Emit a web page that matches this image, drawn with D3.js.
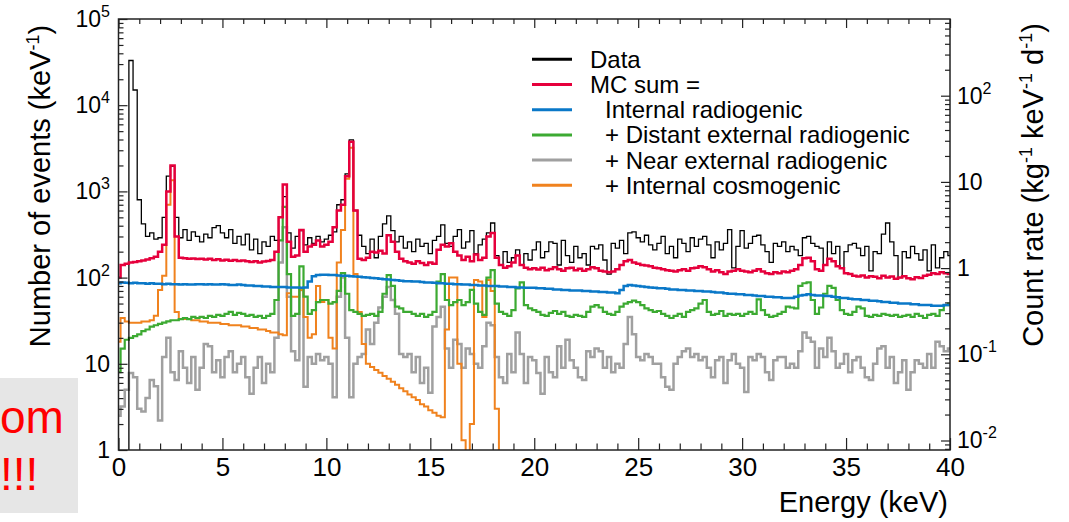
<!DOCTYPE html>
<html>
<head>
<meta charset="utf-8">
<script src="https://cdn.jsdelivr.net/npm/d3@7"></script>
<style>
  body { margin: 0; background: #fff; }
  text { font-family: "Liberation Sans", Arial, Helvetica, sans-serif; }
</style>
</head>
<body>
<svg id="chart" width="1069" height="522"></svg>
<script>
// histogram bins are 0.2 keV wide, centred on 0, 0.2, 0.4 ... keV
const binWidth = 0.2;

// events per keV
const dataCounts = [
  0.5, 0.5, 0.5, 33000, 15000, 800, 420, 300, 330, 280,
  290, 500, 1500, 1950, 500, 290, 360, 270, 340, 300,
  260, 320, 290, 380, 400, 330, 290, 360, 250, 300,
  240, 320, 210, 280, 190, 260, 230, 300, 270, 500,
  870, 330, 220, 300, 350, 240, 290, 250, 300, 260,
  280, 310, 340, 700, 800, 1600, 3950, 600, 310, 230,
  190, 280, 170, 300, 420, 520, 350, 260, 300, 220,
  260, 200, 280, 230, 250, 190, 270, 300, 410, 250,
  230, 300, 360, 220, 260, 350, 190, 240, 280, 330,
  430, 180, 140, 200, 150, 170, 210, 140, 190, 160,
  210, 260, 170, 200, 260, 250, 140, 270, 180, 150,
  230, 170, 190, 140, 230, 215, 240, 160, 110, 250,
  220, 270, 190, 330, 340, 290, 260, 310, 240, 210,
  250, 300, 190, 230, 170, 280, 250, 200, 290, 230,
  280, 300, 240, 170, 260, 210, 250, 360, 130, 230,
  350, 220, 250, 300, 310, 240, 200, 150, 250, 230,
  260, 200, 230, 210, 180, 290, 300, 250, 230, 220,
  140, 260, 190, 230, 130, 200, 240, 250, 220, 180,
  230, 120, 200, 190, 320, 430, 260, 180, 100, 200,
  170, 230, 190, 160, 210, 120, 240, 130, 170, 200,
  180
];

const mcSum = [
  100, 140, 145, 150, 152, 155, 158, 162, 168, 175,
  200, 240, 1000, 2000, 300, 170, 168, 165, 167, 164,
  165, 162, 166, 160, 163, 158, 161, 157, 160, 156,
  158, 155, 152, 155, 150, 154, 156, 160, 200, 500,
  1200, 260, 175, 180, 357, 200, 230, 240, 270, 230,
  240, 260, 385, 600, 700, 1500, 3760, 600, 165, 160,
  170, 200, 195, 205, 190, 310, 260, 200, 165, 155,
  150, 145, 155, 148, 140, 150, 145, 210, 240, 230,
  250, 200, 180, 160, 175, 155, 185, 160, 170, 300,
  330, 170, 140, 130, 135, 150, 180, 140, 130, 125,
  128, 124, 130, 122, 126, 132, 125, 120, 128, 130,
  122, 127, 120, 125, 132, 128, 120, 118, 115, 118,
  125, 140, 155, 160, 150, 145, 140, 138, 135, 130,
  128, 125, 122, 120, 118, 122, 125, 120, 128, 130,
  135, 132, 125, 118, 122, 115, 110, 118, 120, 125,
  120, 118, 115, 120, 125, 118, 112, 110, 115, 112,
  118, 115, 120, 125, 140, 168, 170, 155, 125, 120,
  140, 165, 155, 135, 128, 112, 110, 105, 103, 106,
  100, 104, 102, 98, 105, 100, 103, 97, 100, 104,
  98, 96, 101, 99, 105, 108, 112, 110, 115, 112,
  110
];

const internalRadiogenic = [
  86, 88, 87, 86, 87, 86, 86, 85, 86, 85,
  85, 84, 85, 84, 84, 83, 84, 83, 83, 84,
  84, 83, 84, 83, 83, 84, 83, 82, 82, 83,
  82, 81, 81, 80, 80, 79, 79, 78, 78, 78,
  78, 77, 77, 77, 76, 77, 90, 104, 107, 108,
  108, 107, 107, 106, 105, 105, 104, 103, 102, 101,
  100, 99, 98, 97, 96, 95, 94, 93, 92, 91,
  91, 90, 90, 89, 88, 88, 87, 86, 86, 85,
  85, 84, 84, 83, 83, 82, 82, 81, 81, 80,
  80, 80, 79, 79, 78, 78, 77, 77, 76, 76,
  76, 75, 75, 74, 74, 73, 73, 72, 72, 71,
  71, 71, 70, 70, 69, 69, 68, 68, 67, 67,
  66, 72, 80, 82, 81, 80, 79, 78, 77, 76,
  75, 75, 74, 73, 73, 72, 72, 71, 71, 70,
  70, 69, 69, 68, 67, 67, 66, 65, 65, 64,
  64, 63, 63, 62, 61, 61, 60, 60, 59, 59,
  58, 58, 58, 60, 62, 63, 64, 63, 62, 62,
  61, 61, 60, 59, 58, 58, 57, 56, 56, 55,
  55, 54, 54, 53, 52, 52, 51, 51, 50, 50,
  50, 49, 49, 48, 48, 48, 47, 47, 47, 48,
  48
];

const distantExternal = [
  8, 15, 19, 20, 21, 22, 24, 25, 27, 28,
  29, 30, 31, 32, 32, 33, 34, 33, 35, 34,
  35, 34, 36, 35, 37, 36, 38, 40, 37, 39,
  38, 36, 37, 35, 36, 34, 36, 38, 55, 270,
  660, 110, 36, 38, 135, 60, 38, 42, 52, 55,
  55, 50, 52, 70, 113, 65, 42, 40, 38, 36,
  37, 38, 36, 40, 65, 107, 80, 46, 44, 40,
  40, 38, 36, 38, 35, 37, 40, 90, 110, 55,
  48, 52, 55, 48, 52, 72, 50, 40, 37, 100,
  122, 50, 40, 38, 36, 42, 75, 88, 48, 44,
  42, 40, 37, 36, 39, 41, 38, 40, 36, 35,
  37, 36, 35, 40, 46, 48, 45, 40, 38, 37,
  40, 46, 50, 52, 54, 52, 48, 44, 42, 40,
  41, 38, 36, 34, 36, 38, 35, 40, 42, 44,
  50, 55, 40, 37, 38, 41, 36, 38, 37, 38,
  36, 38, 40, 38, 56, 42, 37, 35, 36, 38,
  40, 46, 45, 44, 80, 86, 88, 55, 38, 45,
  65, 80, 76, 55, 42, 38, 37, 40, 46, 44,
  36, 35, 37, 36, 38, 37, 36, 37, 35, 36,
  37, 35, 38, 36, 34, 37, 38, 36, 42, 48,
  50
];

const nearExternal = [
  2.5, 3.2, 5, 7.8, 7, 3, 2.8, 4, 6.5, 5.5,
  2.2, 12, 20, 8, 6.5, 14, 9, 6, 12, 5,
  9, 17, 16, 8, 11, 7, 12, 14, 8, 10,
  12, 7, 4.5, 9, 12, 6, 10, 8, 20, 150,
  385, 60, 14, 11, 72, 5.4, 12, 10, 13, 11,
  12, 10, 4.1, 60, 100, 20, 4.1, 10, 12, 13,
  25, 17, 30, 45, 60, 78, 55, 38, 13, 12,
  13, 8, 12, 6, 9, 4.6, 27, 35, 46, 15,
  9, 19, 17, 9, 15, 13, 10, 9, 16, 30,
  28, 12, 7, 6, 13, 8, 23, 13, 6, 12,
  11, 7.8, 4.5, 12, 8, 7, 16, 9, 19, 11,
  9, 7, 6.5, 14, 12, 15, 14, 9, 12, 8,
  10, 9, 17, 35, 22, 12, 11, 13, 12, 10,
  10, 7, 5.4, 5, 10, 12, 14, 15, 12, 13,
  11, 12, 9, 7, 11, 12, 6, 11, 13, 10,
  9, 4.7, 12, 11, 13, 12, 8, 6.5, 11, 12,
  12, 9, 10, 9, 14, 23, 20, 18, 9, 15,
  12, 20, 14, 9, 10, 13, 8, 11, 12, 9,
  7, 6.5, 10, 15, 16, 9, 12, 6, 8, 11,
  5, 8, 11, 10, 9, 13, 9, 18, 16, 14,
  15
];

// falls below 1 event/keV after ~18.3 keV
const internalCosmogenic = [
  18, 34, 31, 30, 30, 30, 31, 31, 32, 36,
  72, 105, 700, 1350, 40, 33, 33, 33, 32, 32,
  31, 31, 30, 30, 30, 29, 29, 28, 28, 28,
  27, 27, 26, 26, 25, 25, 24, 23, 23, 22,
  21.5, 66, 60, 60, 72, 35, 20, 22, 80, 52,
  55, 20, 15, 150, 357, 1400, 3200, 110, 40, 17,
  10, 9.2, 8.5, 7.9, 7.2, 6.7, 6.2, 5.7, 5.2, 4.8,
  4.4, 4.1, 3.8, 3.4, 3.2, 2.9, 2.7, 2.5, 2.4, 25,
  100, 100, 10, 1.3, 0.5, 2, 94, 90, 35, 94,
  70, 3, 0.01
];

const seriesNames = ["Data", "MC sum =", "Internal radiogenic",
  "+ Distant external radiogenic", "+ Near external radiogenic", "+ Internal cosmogenic"];
const seriesColors = ["#000000", "#e6003c", "#0a78c8", "#3caa32", "#a0a0a0", "#f0821e"];
const seriesWidths = [1.3, 2.5, 2.5, 2.2, 2.5, 2];
const seriesValues = [dataCounts, mcSum, internalRadiogenic, distantExternal, nearExternal, internalCosmogenic];

const leftDecades = [1, 10, 100, 1000, 10000, 100000];
const rightDecades = [0.01, 0.1, 1, 10, 100];
const xMajorTicks = [0, 5, 10, 15, 20, 25, 30, 35, 40];

const svg = d3.select("#chart");
const plot = { left: 118.5, right: 950, top: 19, bottom: 450 };

const x = d3.scaleLinear().domain([0, 40]).range([plot.left, plot.right]);
const y = d3.scaleLog().domain([1, 1e5]).range([plot.bottom, plot.top]);
// count rate scale: events/keV divided by exposure (~129 kg d)
const yRight = d3.scaleLog().domain([1 / 128.9, 1e5 / 128.9]).range([plot.bottom, plot.top]);

// grey note box on the left
svg.append("rect").attr("x", 0).attr("y", 378).attr("width", 78).attr("height", 135).attr("fill", "#e6e6e6");
svg.append("text").attr("x", 0).attr("y", 433).attr("font-size", 46).attr("fill", "#ff0000").text("om");
svg.append("text").attr("x", 0).attr("y", 490).attr("font-size", 46).attr("fill", "#ff0000").text("!!!");

svg.append("defs").append("clipPath").attr("id", "clip")
  .append("rect").attr("x", plot.left).attr("y", plot.top)
  .attr("width", plot.right - plot.left).attr("height", plot.bottom - plot.top);

const stepLine = d3.line()
  .x(d => x(Math.max(0, d[0])))
  .y(d => y(Math.max(d[1], 0.3)))
  .curve(d3.curveStepAfter);

function stepPoints(vals) {
  const pts = vals.map((v, i) => [i * binWidth - binWidth / 2, v]);
  pts.push([vals.length * binWidth - binWidth / 2, vals[vals.length - 1]]);
  return pts;
}

const drawOrder = [4, 5, 3, 2, 0, 1];
const lines = svg.append("g").attr("clip-path", "url(#clip)");
drawOrder.forEach(k => {
  lines.append("path")
    .attr("d", stepLine(stepPoints(seriesValues[k])))
    .attr("fill", "none")
    .attr("stroke", seriesColors[k])
    .attr("stroke-width", seriesWidths[k])
    .attr("stroke-linejoin", "miter");
});

// ticks, all pointing into the frame
function styleAxis(g) {
  g.select(".domain").remove();
  g.selectAll("line").attr("stroke", "#222").attr("stroke-width", 1.2);
}
const xMinor = d3.range(0, 41).filter(v => v % 5 !== 0);
svg.append("g").attr("transform", `translate(0,${plot.bottom})`)
  .call(d3.axisBottom(x).tickValues(xMinor).tickSizeInner(-6.5).tickSizeOuter(0).tickFormat(""))
  .call(styleAxis);
svg.append("g").attr("transform", `translate(0,${plot.bottom})`)
  .call(d3.axisBottom(x).tickValues(xMajorTicks).tickSizeInner(-12).tickSizeOuter(0).tickPadding(8).tickFormat(d3.format("d")))
  .call(styleAxis)
  .call(g => g.selectAll("text").attr("font-size", 26).attr("fill", "#000")
    .attr("font-family", "Liberation Sans, Arial, sans-serif"));
svg.append("g").attr("transform", `translate(0,${plot.top})`)
  .call(d3.axisTop(x).tickValues(xMinor).tickSizeInner(-5).tickSizeOuter(0).tickFormat(""))
  .call(styleAxis);
svg.append("g").attr("transform", `translate(0,${plot.top})`)
  .call(d3.axisTop(x).tickValues(xMajorTicks).tickSizeInner(-9).tickSizeOuter(0).tickFormat(""))
  .call(styleAxis);

function minorLogTicks(lo, hi) {
  const out = [];
  for (let p = -3; p <= 5; p++) {
    for (let m = 2; m <= 9; m++) {
      const v = m * Math.pow(10, p);
      if (v > lo && v < hi) out.push(v);
    }
  }
  return out;
}
svg.append("g").attr("transform", `translate(${plot.left},0)`)
  .call(d3.axisLeft(y).tickValues(minorLogTicks(1, 1e5)).tickSizeInner(-5).tickSizeOuter(0).tickFormat(""))
  .call(styleAxis);
svg.append("g").attr("transform", `translate(${plot.left},0)`)
  .call(d3.axisLeft(y).tickValues(leftDecades).tickSizeInner(-9).tickSizeOuter(0).tickFormat(""))
  .call(styleAxis);
svg.append("g").attr("transform", `translate(${plot.right},0)`)
  .call(d3.axisRight(yRight).tickValues(minorLogTicks(yRight.domain()[0], yRight.domain()[1])).tickSizeInner(-5).tickSizeOuter(0).tickFormat(""))
  .call(styleAxis);
svg.append("g").attr("transform", `translate(${plot.right},0)`)
  .call(d3.axisRight(yRight).tickValues(rightDecades).tickSizeInner(-9).tickSizeOuter(0).tickFormat(""))
  .call(styleAxis);

// frame
svg.append("rect")
  .attr("x", plot.left).attr("y", plot.top)
  .attr("width", plot.right - plot.left).attr("height", plot.bottom - plot.top)
  .attr("fill", "none").attr("stroke", "#222").attr("stroke-width", 1.5);

// power-of-ten labels
function powerLabel(sel, v) {
  const p = Math.round(Math.log10(v));
  if (p === 0) { sel.text("1"); return; }
  if (p === 1) { sel.text("10"); return; }
  sel.append("tspan").text("10");
  sel.append("tspan").attr("font-size", 16).attr("dy", -10).text(String(p));
}
leftDecades.forEach(v => {
  svg.append("text").attr("x", 110).attr("y", y(v) + 8)
    .attr("text-anchor", "end").attr("font-size", 23)
    .call(powerLabel, v);
});
rightDecades.forEach(v => {
  svg.append("text").attr("x", 957).attr("y", yRight(v) + 8)
    .attr("text-anchor", "start").attr("font-size", 23)
    .call(powerLabel, v);
});

// axis titles
svg.append("text").attr("x", 948).attr("y", 512).attr("text-anchor", "end")
  .attr("font-size", 29).text("Energy (keV)");

const leftTitle = svg.append("text")
  .attr("transform", "translate(50,186) rotate(-90)")
  .attr("text-anchor", "middle").attr("font-size", 29);
leftTitle.append("tspan").text("Number of events (keV");
leftTitle.append("tspan").attr("font-size", 18).attr("dy", -11).text("-1");
leftTitle.append("tspan").attr("dy", 11).text(")");

const rightTitle = svg.append("text")
  .attr("transform", "translate(1043,185) rotate(-90)")
  .attr("text-anchor", "middle").attr("font-size", 29);
rightTitle.append("tspan").text("Count rate (kg");
rightTitle.append("tspan").attr("font-size", 18).attr("dy", -11).text("-1");
rightTitle.append("tspan").attr("dy", 11).text(" keV");
rightTitle.append("tspan").attr("font-size", 18).attr("dy", -11).text("-1");
rightTitle.append("tspan").attr("dy", 11).text(" d");
rightTitle.append("tspan").attr("font-size", 18).attr("dy", -11).text("-1");
rightTitle.append("tspan").attr("dy", 11).text(")");

// legend
const legendIndent = [0, 0, 15, 15, 15, 15];
const legend = svg.append("g");
seriesNames.forEach((name, i) => {
  const cy = 59.3 + i * 25.2;
  legend.append("line").attr("x1", 532).attr("x2", 572).attr("y1", cy).attr("y2", cy)
    .attr("stroke", seriesColors[i]).attr("stroke-width", 3);
  legend.append("text").attr("x", 590 + legendIndent[i]).attr("y", cy + 8.5)
    .attr("font-size", 24).text(name);
});
</script>
</body>
</html>
